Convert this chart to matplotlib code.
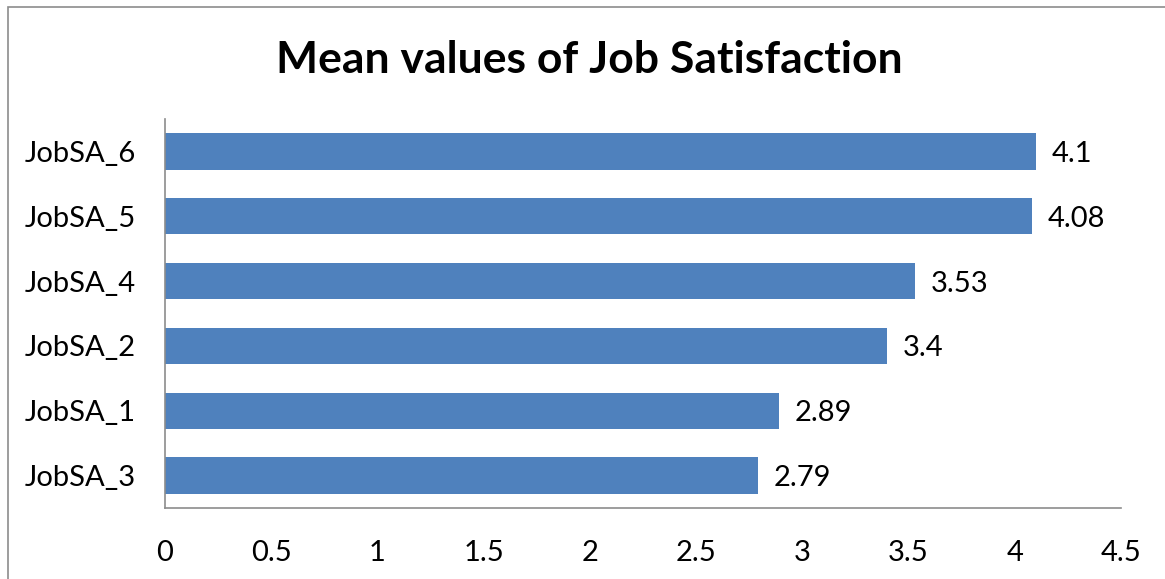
import matplotlib
matplotlib.use("Agg")
import matplotlib.pyplot as plt
from matplotlib.patches import Rectangle

categories = ["JobSA_3", "JobSA_1", "JobSA_2", "JobSA_4", "JobSA_5", "JobSA_6"]
values = [2.79, 2.89, 3.4, 3.53, 4.08, 4.1]
xticks = [0, 0.5, 1, 1.5, 2, 2.5, 3, 3.5, 4, 4.5]
xticklabels = ["0", "0.5", "1", "1.5", "2", "2.5", "3", "3.5", "4", "4.5"]
title = "Mean values of Job Satisfaction"

plt.rcParams['font.family'] = ['Lato', 'DejaVu Sans']

W, H = 1165, 579
fig = plt.figure(figsize=(W / 100, H / 100), dpi=100)
ax = fig.add_axes([165 / W, 1 - 508 / H, (1121 - 165) / W, (508 - 119) / H])

ax.barh(range(len(categories)), values, height=0.56, color="#4F81BD")
ax.set_xlim(0, 4.5)
ax.set_ylim(-0.5, len(categories) - 0.5)
ax.set_xticks(xticks)
ax.set_xticklabels(xticklabels, fontsize=21)
ax.set_yticks(range(len(categories)))
ax.set_yticklabels(categories, fontsize=21)
ax.tick_params(axis="both", length=0)
ax.tick_params(axis="x", pad=23)
ax.tick_params(axis="y", pad=21)
for s in ["top", "right"]:
    ax.spines[s].set_visible(False)
for s in ["left", "bottom"]:
    ax.spines[s].set_color("#8C8C8C")
    ax.spines[s].set_linewidth(1.2)

for i, v in enumerate(values):
    ax.text(v + 0.075, i, f"{v:g}", va="center_baseline", ha="left", fontsize=21)

fig.text(589 / W, 1 - 60 / H, title, ha="center", va="center", fontsize=32, fontweight="bold")

# outer chart border (partially visible)
fig.add_artist(Rectangle((8 / W, -0.1), 1.2, 1 - 7 / H + 0.1, transform=fig.transFigure,
                         fill=False, edgecolor="#8C8C8C", linewidth=1.2))

fig.savefig("out.png", dpi=100)
